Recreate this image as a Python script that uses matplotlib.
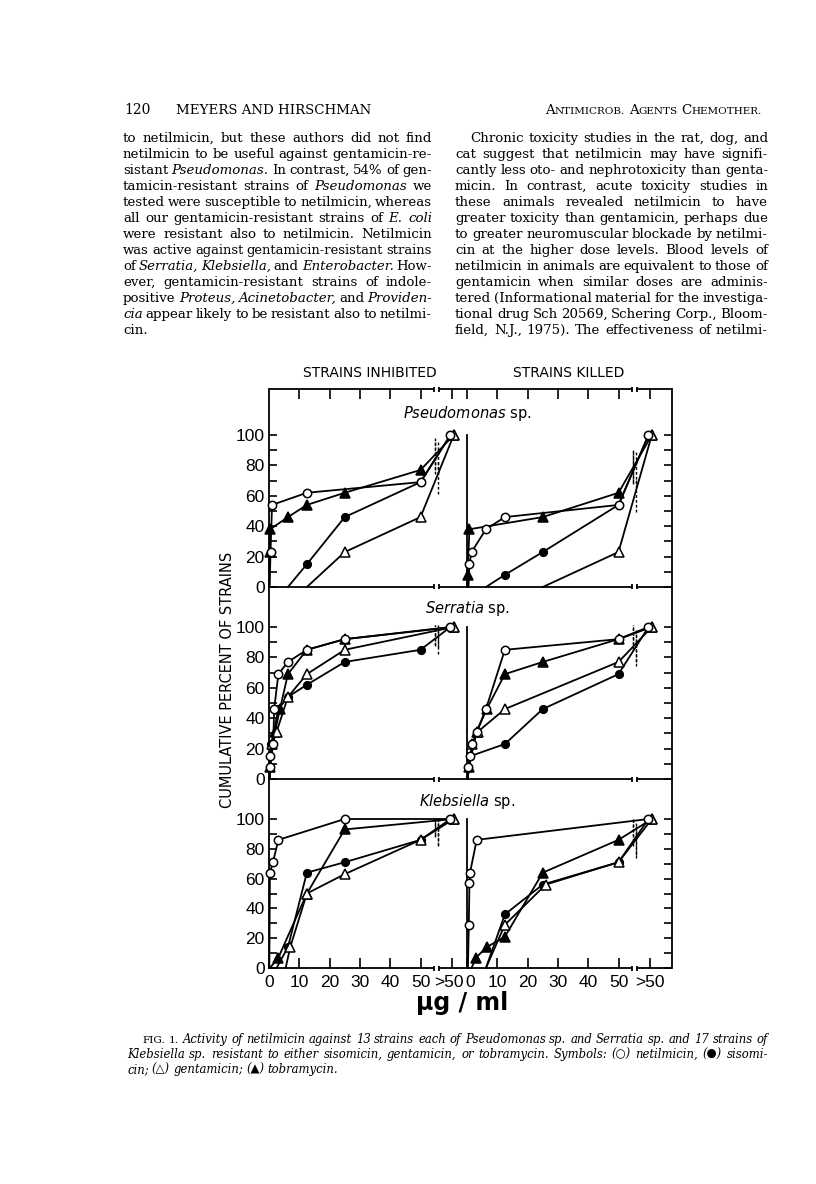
import matplotlib
matplotlib.use('Agg')
import matplotlib.pyplot as plt
from matplotlib.ticker import FixedLocator
from matplotlib.transforms import ScaledTranslation

plt.rcParams['font.family'] = ['DejaVu Sans']

GT = '>50'

# cumulative percent of strains vs. concentration (ug/ml); '>50' = above top dilution
pseudomonas_inhibited = {
    'netilmicin': ([0.2, 0.5, 1.0, 12.5, 50, GT], [0, 23, 54, 62, 69, 100]),
    'sisomicin': ([6.25, 12.5, 25, 50, GT], [0, 15, 46, 69, 100]),
    'gentamicin': ([12.5, 25, 50, GT], [0, 23, 46, 100]),
    'tobramycin': ([0.1, 0.2, 0.4, 6.25, 12.5, 25, 50, GT], [0, 23, 38, 46, 54, 62, 77, 100]),
}
pseudomonas_killed = {
    'netilmicin': ([0.5, 0.8, 1.5, 6.25, 12.5, 50, GT], [0, 15, 23, 38, 46, 54, 100]),
    'sisomicin': ([6.25, 12.5, 25, 50, GT], [0, 8, 23, 54, 100]),
    'gentamicin': ([25, 50, GT], [0, 23, 100]),
    'tobramycin': ([0.1, 0.2, 0.8, 25, 50, GT], [0, 8, 38, 46, 62, 100]),
}
serratia_inhibited = {
    'netilmicin': ([0.2, 0.3, 0.4, 1.4, 1.7, 3.1, 6.25, 12.5, 25, GT], [0, 8, 15, 23, 46, 69, 77, 85, 92, 100]),
    'sisomicin': ([0.2, 0.8, 3.1, 6.25, 12.5, 25, 50, GT], [0, 23, 46, 54, 62, 77, 85, 100]),
    'gentamicin': ([0.2, 1.1, 2.5, 6.25, 12.5, 25, GT], [0, 23, 31, 54, 69, 85, 100]),
    'tobramycin': ([0.1, 0.2, 2.0, 3.6, 6.25, 12.5, 25, GT], [0, 8, 31, 46, 69, 85, 92, 100]),
}
serratia_killed = {
    'netilmicin': ([0.2, 0.4, 1.0, 1.75, 3.2, 6.25, 12.5, 50, GT], [0, 8, 15, 23, 31, 46, 85, 92, 100]),
    'sisomicin': ([0.2, 1.0, 12.5, 25, 50, GT], [0, 15, 23, 46, 69, 100]),
    'gentamicin': ([0.2, 1.75, 3.5, 12.5, 50, GT], [0, 23, 31, 46, 77, 100]),
    'tobramycin': ([0.2, 0.6, 3.2, 6.5, 12.5, 25, 50, GT], [0, 8, 31, 46, 69, 77, 92, 100]),
}
klebsiella_inhibited = {
    'netilmicin': ([0.1, 0.3, 1.3, 3.1, 25, GT], [0, 64, 71, 86, 100, 100]),
    'sisomicin': ([2.5, 6.25, 12.5, 25, 50, GT], [0, 14, 64, 71, 86, 100]),
    'gentamicin': ([5.5, 7.0, 12.5, 25, 50, GT], [0, 14, 50, 63, 86, 100]),
    'tobramycin': ([0.3, 3.1, 12.5, 25, GT], [0, 7, 50, 93, 100]),
}
klebsiella_killed = {
    'netilmicin': ([0.3, 0.6, 0.8, 1.0, 3.2, GT], [0, 29, 57, 64, 86, 100]),
    'sisomicin': ([6.25, 12.5, 25, 50, GT], [0, 36, 56, 71, 100]),
    'gentamicin': ([6.25, 12.5, 26, 50, GT], [0, 29, 56, 71, 100]),
    'tobramycin': ([1.5, 3.0, 6.5, 12.5, 25, 50, GT], [0, 7, 14, 21, 64, 86, 100]),
}

panels = [('Pseudomonas', pseudomonas_inhibited, pseudomonas_killed),
          ('Serratia', serratia_inhibited, serratia_killed),
          ('Klebsiella', klebsiella_inhibited, klebsiella_killed)]

x_ticks = [0, 10, 20, 30, 40, 50, GT]
y_major = [0, 20, 40, 60, 80, 100]
y_minor = [10, 30, 50, 70, 90]

left_col = [
    "to netilmicin, but these authors did not find",
    "netilmicin to be useful against gentamicin-re-",
    "sistant *Pseudomonas*. In contrast, 54% of gen-",
    "tamicin-resistant strains of *Pseudomonas* we",
    "tested were susceptible to netilmicin, whereas",
    "all our gentamicin-resistant strains of *E.* *coli*",
    "were resistant also to netilmicin. Netilmicin",
    "was active against gentamicin-resistant strains",
    "of *Serratia,* *Klebsiella,* and *Enterobacter*. How-",
    "ever, gentamicin-resistant strains of indole-",
    "positive *Proteus,* *Acinetobacter,* and *Providen-*",
    "*cia* appear likely to be resistant also to netilmi-",
    "cin.",
]
right_col = [
    "Chronic toxicity studies in the rat, dog, and",
    "cat suggest that netilmicin may have signifi-",
    "cantly less oto- and nephrotoxicity than genta-",
    "micin. In contrast, acute toxicity studies in",
    "these animals revealed netilmicin to have",
    "greater toxicity than gentamicin, perhaps due",
    "to greater neuromuscular blockade by netilmi-",
    "cin at the higher dose levels. Blood levels of",
    "netilmicin in animals are equivalent to those of",
    "gentamicin when similar doses are adminis-",
    "tered (Informational material for the investiga-",
    "tional drug Sch 20569, Schering Corp., Bloom-",
    "field, N.J., 1975). The effectiveness of netilmi-",
]
caption = [
    "*FIG.* *1.* Activity of netilmicin against 13 strains each of Pseudomonas sp. and Serratia sp. and 17 strains of",
    "Klebsiella sp. resistant to either sisomicin, gentamicin, or tobramycin. Symbols: (\u25CB) netilmicin, (\u25CF) sisomi-",
    "cin; (\u25B3) gentamicin; (\u25B2) tobramycin.",
]

W, H = 816, 1184
fig = plt.figure(figsize=(W / 100, H / 100), dpi=100)
page = fig.add_axes([0, 0, 1, 1])
page.set_xlim(0, W)
page.set_ylim(H, 0)
page.axis('off')
renderer = fig.canvas.get_renderer()

SERIF = ['DejaVu Serif', 'DejaVu Sans']


def text_line(line, x0, x1, y, size, italic=False, justify=True):
    arts, sizes = [], []
    for tok in line.split():
        flip = '*' in tok
        tok = tok.replace('*', '')
        it = italic != flip
        sz = size * 0.9 if (flip and italic) else size
        sizes.append(sz)
        arts.append(page.text(x0, y, tok, fontsize=sz, family=SERIF,
                              style='italic' if it else 'normal', va='baseline'))
    widths = [a.get_window_extent(renderer).width for a in arts]
    min_gap = size * 100 / 72 * 0.22
    need = sum(widths) + min_gap * (len(arts) - 1)
    if need > x1 - x0:
        f = (x1 - x0) / need
        for a, sz in zip(arts, sizes):
            a.set_fontsize(sz * f)
        widths = [a.get_window_extent(renderer).width for a in arts]
        min_gap *= f
    if justify and len(arts) > 1:
        gap = (x1 - x0 - sum(widths)) / (len(arts) - 1)
    else:
        gap = size * 100 / 72 * 0.28
    x = x0
    for a, w in zip(arts, widths):
        a.set_x(x)
        x += w + gap


def small_caps(text, x_right, y, size):
    parts = []
    for word in text.split():
        parts.append((word[0], size))
        parts.append((word[1:].upper(), size * 0.78))
        parts.append((' ', size))
    parts = parts[:-1]
    arts = [page.text(0, y, s, fontsize=sz, family=SERIF, va='baseline') for s, sz in parts]
    widths = [a.get_window_extent(renderer).width if s != ' ' else size * 100 / 72 * 0.3
              for a, (s, _) in zip(arts, parts)]
    x = x_right - sum(widths)
    for a, w in zip(arts, widths):
        a.set_x(x)
        x += w


# page header
page.text(124, 114, '120', fontsize=10, family=SERIF, va='baseline')
page.text(176, 114, 'MEYERS AND HIRSCHMAN', fontsize=9.6, family=SERIF, va='baseline')
small_caps('Antimicrob. Agents Chemother.', 762, 114, 9.6)

for i, line in enumerate(left_col):
    text_line(line, 123, 432, 142 + 16 * i, 9.6, justify=i < len(left_col) - 1)
for i, line in enumerate(right_col):
    text_line(line, 470 if i == 0 else 455, 768, 142 + 16 * i, 9.6)

for i, line in enumerate(caption):
    text_line(line, 142 if i == 0 else 127, 768, 1043 + 15 * i, 8.4, italic=True,
              justify=i < len(caption) - 1)

# chart geometry (page pixels)
XL, XR = 269, 672
SCALE_X = 3.03
XMAX = (XR - XL) / SCALE_X
OFF = (467 - XL) / SCALE_X
BRK = 55.3
GT_POS = 60.3
tops = [389, 587, 779]
zeros = [587, 779, 968]
hundreds = [435, 627, 819]

styles = {
    'netilmicin': dict(marker='o', mfc='white', ms=6),
    'sisomicin': dict(marker='o', mfc='black', ms=5.5),
    'gentamicin': dict(marker='^', mfc='white', ms=6.5),
    'tobramycin': dict(marker='^', mfc='black', ms=6.5),
}
gt_shift = {'netilmicin': -0.4, 'sisomicin': -0.4, 'gentamicin': 0.7, 'tobramycin': 0.7}
dash_dx = {'netilmicin': -0.6, 'sisomicin': 0.6, 'gentamicin': 0.6, 'tobramycin': -0.6}
order = ['sisomicin', 'tobramycin', 'gentamicin', 'netilmicin']


def xpos(v, base, drug):
    if v == GT:
        return base + GT_POS + gt_shift[drug]
    return base + v


def broken_hline(ax, y, half_h):
    kw = dict(color='black', lw=1.3, clip_on=False, solid_capstyle='butt')
    g = 0.7
    ax.plot([0, BRK - g], [y, y], **kw)
    ax.plot([BRK + g, OFF + BRK - g], [y, y], **kw)
    ax.plot([OFF + BRK + g, XMAX], [y, y], **kw)
    for b in (BRK - g, BRK + g, OFF + BRK - g, OFF + BRK + g):
        ax.plot([b, b], [y - half_h, y + half_h], **kw)


tick_pos = [v if v != GT else GT_POS for v in x_ticks] + \
           [OFF + v if v != GT else OFF + GT_POS for v in x_ticks]
tick_lab = [str(v) for v in x_ticks] * 2

for p, (name, inhibited, killed) in enumerate(panels):
    scale = (zeros[p] - hundreds[p]) / 100
    ymax = (zeros[p] - tops[p]) / scale
    ax = fig.add_axes([XL / W, 1 - zeros[p] / H, (XR - XL) / W, (zeros[p] - tops[p]) / H])
    ax.set_facecolor('none')
    ax.set_xlim(0, XMAX)
    ax.set_ylim(0, ymax)
    for s in ('top', 'bottom'):
        ax.spines[s].set_visible(False)
    for s in ('left', 'right'):
        ax.spines[s].set_linewidth(1.3)

    ax.yaxis.set_major_locator(FixedLocator(y_major))
    ax.yaxis.set_minor_locator(FixedLocator(y_minor))
    ax.tick_params(axis='y', which='both', direction='in', left=True, right=True,
                   length=6, width=1.2, pad=3)
    ax.tick_params(axis='y', which='major', labelsize=12.5)
    for t in ax.get_yticklabels():
        t.set_family('Liberation Sans')

    ax.set_xticks(tick_pos if p != 0 else [t for t in tick_pos if t > 0])
    ax.xaxis.set_minor_locator(FixedLocator([]))
    if p == 0:
        ax.tick_params(axis='x', direction='in', bottom=False, top=True, labelbottom=False,
                       length=7, width=1.2)
        broken_hline(ax, ymax, 2.5 / scale)
    elif p == 2:
        ax.set_xticklabels(tick_lab)
        ax.tick_params(axis='x', direction='in', bottom=True, top=False, length=7, width=1.2,
                       labelsize=12.5, pad=5)
        labs = ax.get_xticklabels()
        for t in labs:
            t.set_family('Liberation Sans')
        labs[6].set_transform(labs[6].get_transform() + ScaledTranslation(-3 / 100, 0, fig.dpi_scale_trans))
        labs[7].set_transform(labs[7].get_transform() + ScaledTranslation(3 / 100, 0, fig.dpi_scale_trans))
    else:
        ax.tick_params(axis='x', bottom=False, top=False, labelbottom=False)
    broken_hline(ax, 0, 2.5 / scale)

    # middle divider between inhibited and killed
    ax.plot([OFF, OFF], [0, 100], color='black', lw=1.3)

    for data, base in ((inhibited, 0), (killed, OFF)):
        for drug in order:
            xs, ys = data[drug]
            xp = [xpos(v, base, drug) for v in xs]
            marks = [i for i, y in enumerate(ys) if y > 0]
            st = styles[drug]
            ax.plot(xp, ys, color='black', lw=1.3, marker=st['marker'], ms=st['ms'],
                    mfc=st['mfc'], mec='black', mew=1.1, markevery=marks,
                    clip_on=False, zorder=3)
            b = base + BRK
            for i in range(len(xp) - 1):
                if xp[i] < b < xp[i + 1]:
                    yc = ys[i] + (ys[i + 1] - ys[i]) * (b - xp[i]) / (xp[i + 1] - xp[i])
                    ax.plot([b + dash_dx[drug]] * 2, [yc - 11, min(yc + 11, 101)],
                            color='black', lw=1.0, ls=(0, (2, 1.5)), zorder=2)

    label_y = [114, 112, 112][p]
    ax.text(OFF, label_y, r'$\mathit{' + name + '}$ sp.', ha='center', va='center',
            fontsize=10.5)

page.text(370, 373, 'STRAINS INHIBITED', ha='center', va='center', fontsize=10)
page.text(569, 373, 'STRAINS KILLED', ha='center', va='center', fontsize=10)
page.text(228, 680, 'CUMULATIVE PERCENT OF STRAINS', rotation=90, ha='center',
          va='center', fontsize=10.5)
page.text(462, 1003, '\u03bcg / ml', ha='center', va='center', fontsize=17, weight='bold')

fig.savefig('out.png', dpi=100)
